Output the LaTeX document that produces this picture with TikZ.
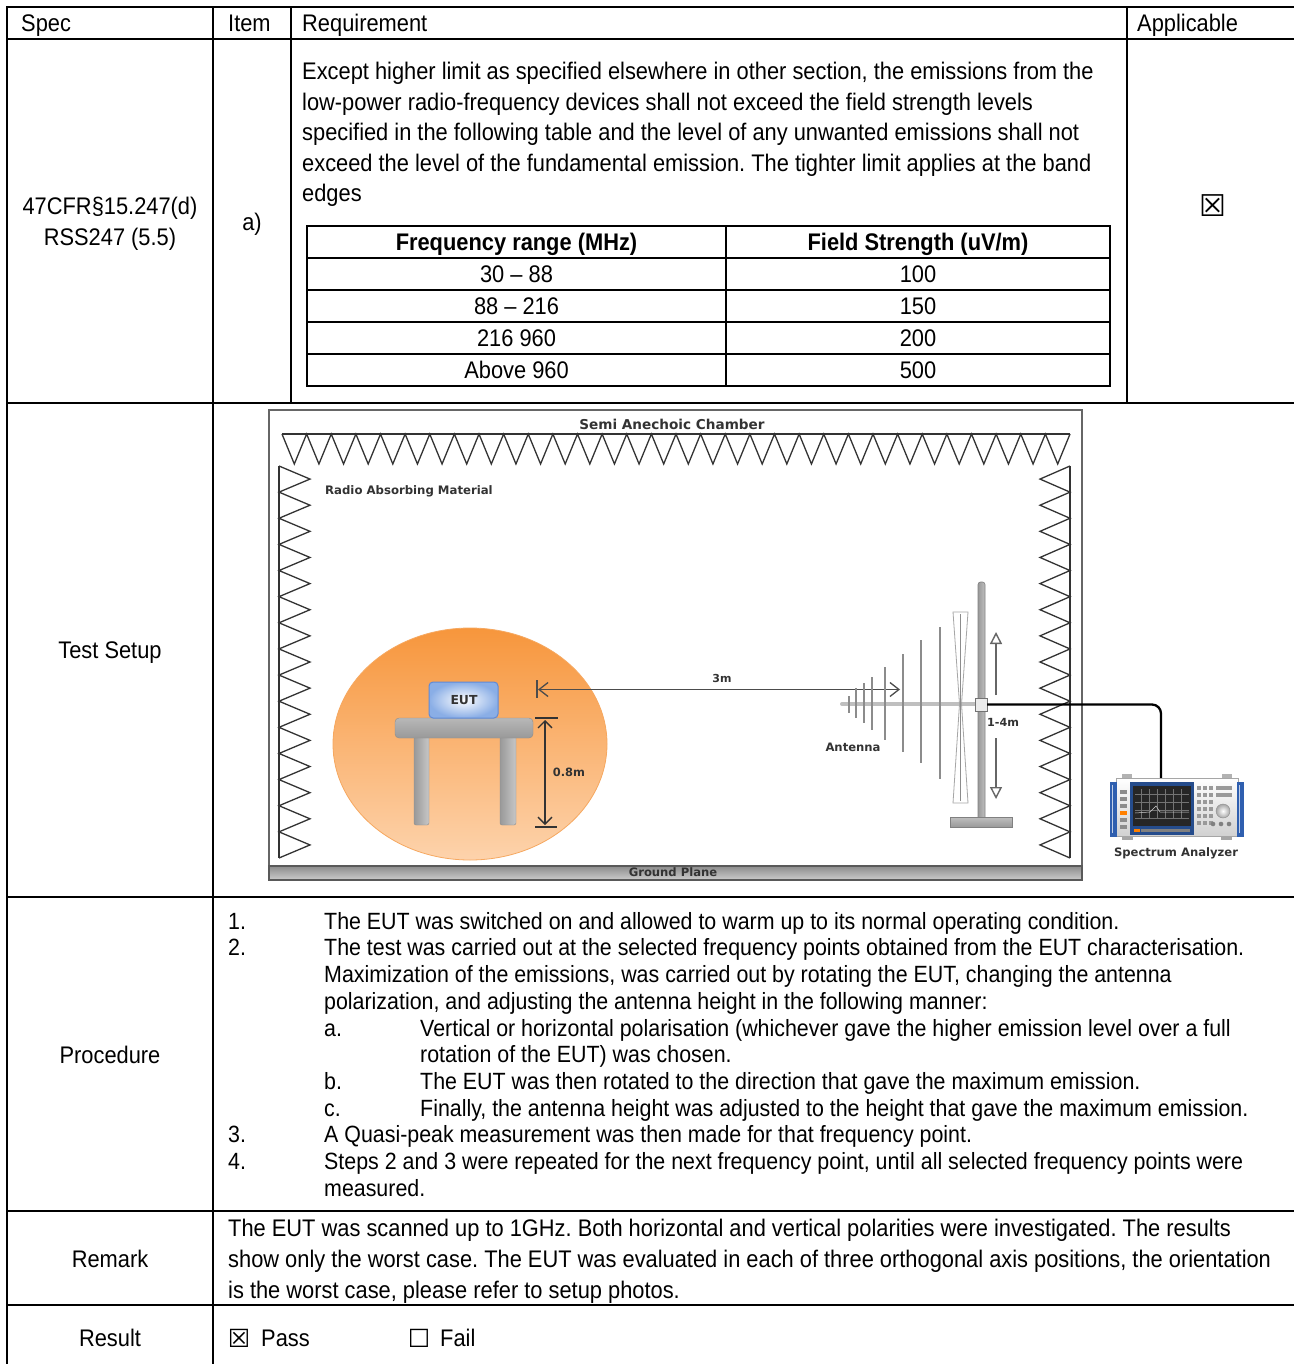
\documentclass[tikz,border=0pt]{standalone}
\usepackage{fontspec}
\setmainfont{Liberation Sans}[FakeStretch=0.91]
\newfontfamily\lblfont{DejaVu Sans}
\newfontfamily\symfont{DejaVu Sans}
\usetikzlibrary{arrows.meta,shapes.geometric}
\frenchspacing
\definecolor{lblgray}{HTML}{333333}
\definecolor{orgtop}{HTML}{F7963C}
\definecolor{orgbot}{HTML}{FDD3AC}
\definecolor{orgedge}{HTML}{F6A860}
\definecolor{eutblue}{HTML}{8AAEE6}
\definecolor{eutedge}{HTML}{5F8AD6}
\definecolor{handle}{HTML}{2F5FAF}
\newcommand\fsmain{\fontsize{24}{30}\selectfont}
\newcommand\fsproc{\fontsize{23.5}{27}\selectfont}
\newcommand\fslbl[1]{\lblfont\bfseries\fontsize{#1}{#1}\selectfont}
\newcommand\fssym[1]{\symfont\fontsize{#1}{#1}\selectfont}
\tikzset{
  grid/.style={line width=2.4pt, line cap=rect},
  itab/.style={line width=2pt},
  txt/.style={inner sep=0pt, anchor=base west, font=\fsmain},
  txtc/.style={inner sep=0pt, anchor=base, font=\fsmain},
  btxtc/.style={inner sep=0pt, anchor=base, font=\fsmain\bfseries},
  ptxt/.style={inner sep=0pt, anchor=base west, font=\fsproc},
  lbl/.style={inner sep=0pt, text=lblgray, font=\fslbl{11.6}},
  absorb/.style={draw=black!80, line width=1.3pt, line join=miter},
  elem/.style={draw=black!45, line width=1.3pt},
}
\begin{document}
\begin{tikzpicture}[x=1pt,y=-1pt]
\useasboundingbox (0,0) rectangle (1293,1364);
\fill[white] (0,0) rectangle (1293,1364);

% ---------------- main table grid ----------------
\draw[grid] (7,7) -- (1293,7);
\draw[grid] (7,39) -- (1293,39);
\draw[grid] (7,403) -- (1293,403);
\draw[grid] (7,897) -- (1293,897);
\draw[grid] (7,1211) -- (1293,1211);
\draw[grid] (7,1305) -- (1293,1305);
\draw[grid] (7,7) -- (7,1366);
\draw[grid] (213,7) -- (213,1366);
\draw[grid] (291,7) -- (291,403);
\draw[grid] (1127,7) -- (1127,403);

% header
\node[txt] (hspec) at (21,31.5) {Spec};
\node[txt] (hitem) at (228,31.5) {Item};
\node[txt] (hreq) at (302,31.5) {Requirement};
\node[txt] (happ) at (1137,31.5) {Applicable};

% row 1
\node[txtc] (spec1) at (110,215) {47CFR§15.247(d)};
\node[txtc] (spec2) at (110,246) {RSS247 (5.5)};
\node[txtc] (item1) at (252,231) {a)};
\node[inner sep=0pt, anchor=center, font=\fssym{30}] (appl) at (1213,206) {☒};
\node[txt] (req1) at (302,80) {Except higher limit as specified elsewhere in other section, the emissions from the};
\node[txt] (req2) at (302,110.5) {low-power radio-frequency devices shall not exceed the field strength levels};
\node[txt] (req3) at (302,141) {specified in the following table and the level of any unwanted emissions shall not};
\node[txt] (req4) at (302,171.5) {exceed the level of the fundamental emission. The tighter limit applies at the band};
\node[txt] (req5) at (302,202) {edges};

% inner limits table
\draw[itab] (307,226) rectangle (1110,386);
\draw[itab] (726,226) -- (726,386);
\foreach \yy in {258,290,322,354} \draw[itab] (307,\yy) -- (1110,\yy);
\node[btxtc] (fh1) at (516.5,250.5) {Frequency range (MHz)};
\node[btxtc] (fh2) at (918,250.5) {Field Strength (uV/m)};
\node[txtc] (f1) at (516.5,282.5) {30 – 88};
\node[txtc] (f2) at (516.5,314.5) {88 – 216};
\node[txtc] (f3) at (516.5,346.5) {216 960};
\node[txtc] (f4) at (516.5,378.5) {Above 960};
\node[txtc] (s1) at (918,282.5) {100};
\node[txtc] (s2) at (918,314.5) {150};
\node[txtc] (s3) at (918,346.5) {200};
\node[txtc] (s4) at (918,378.5) {500};

% ---------------- test setup ----------------
\node[txtc] (tsetup) at (110,658.5) {Test Setup};

% chamber
\draw[black!60, line width=1.6pt] (269,410) rectangle (1082,880);
\shade[top color=black!45, bottom color=black!20, draw=black!65, line width=1.2pt] (269,866) rectangle (1082,880);
\node[lbl, font=\fslbl{11.6}] (ground) at (673,872.5) {Ground Plane};
\node[lbl, font=\fslbl{13.6}] (title) at (672,424) {Semi Anechoic Chamber};
\node[lbl, anchor=west, font=\fslbl{11.7}] (ram) at (325,491) {Radio Absorbing Material};

% absorbers
\draw[absorb] (282,434) -- (1070,434);
\draw[absorb] (282,434) foreach \i in {0,...,31} { -- ({282+(\i+0.5)*24.625},464) -- ({282+(\i+1)*24.625},434) };
\draw[absorb] (279,466) -- (279,858);
\draw[absorb] (279,466) foreach \i in {0,...,14} { -- (310,{466+(\i+0.5)*26.133}) -- (279,{466+(\i+1)*26.133}) };
\draw[absorb] (1070,466) -- (1070,858);
\draw[absorb] (1070,466) foreach \i in {0,...,14} { -- (1040,{466+(\i+0.5)*26.133}) -- (1070,{466+(\i+1)*26.133}) };

% EUT zone
\shade[top color=orgtop, bottom color=orgbot, draw=orgedge, line width=0.8pt] (470,744) ellipse [x radius=137pt, y radius=116pt];
\shade[left color=black!40, right color=black!22, draw=black!45, rounded corners=2pt] (414,735) rectangle (429,825);
\shade[left color=black!40, right color=black!22, draw=black!45, rounded corners=2pt] (500,735) rectangle (516,825);
\shade[top color=black!28, bottom color=black!40, draw=black!45, rounded corners=4pt] (395,718) rectangle (533,738);
\shade[inner color=white, outer color=eutblue, draw=eutedge, line width=1pt, rounded corners=4pt] (429,682) rectangle (498,718);
\node[lbl, font=\fslbl{12.4}] (eut) at (464,700) {EUT};

% 0.8 m dimension
\draw[black!80, line width=1.3pt] (535,718) -- (558,718);
\draw[black!80, line width=1.3pt] (535,827) -- (557,827);
\draw[black!80, line width=1.3pt, {Straight Barb[length=7pt,width=14pt]}-{Straight Barb[length=7pt,width=14pt]}] (545,720) -- (545,825);
\node[lbl, font=\fslbl{11.4}] (h08) at (569,772) {0.8m};

% 3 m distance
\draw[black!70, line width=1.3pt] (537,680) -- (537,698);
\draw[black!70, line width=1.3pt, {Straight Barb[length=9pt,width=14pt]}-{Straight Barb[length=9pt,width=14pt]}] (538,689.5) -- (900,689.5);
\node[lbl, font=\fslbl{11}] (d3) at (722,678) {3m};

% antenna
\draw[black!25, line width=4pt, line cap=round] (842,704) -- (978,704);
\draw[elem] (849,696) -- (849,713);
\draw[elem] (856,688) -- (856,718);
\draw[elem] (864,683) -- (864,723);
\draw[elem] (872,677) -- (872,730);
\draw[elem] (885,667) -- (885,740);
\draw[elem] (903,654) -- (903,752);
\draw[elem] (921,640) -- (921,763);
\draw[elem] (940,627) -- (940,779);
\draw[black!35, line width=0.8pt] (953,612) -- (968,612) -- (961.5,704) -- (968,803) -- (953,803) -- (959.5,704) -- cycle;
\draw[black!45, line width=0.8pt] (960.5,614) -- (960.5,801);
\node[lbl, font=\fslbl{11.6}] (ant) at (853,747.5) {Antenna};

% mast
\shade[left color=black!40, right color=black!25, draw=black!50, line width=0.6pt, rounded corners=2.5pt] (978,582) rectangle (985,820);
\shade[top color=black!25, bottom color=black!40, draw=black!50, line width=0.6pt] (950,817) rectangle (1012,827);
\draw[black!55, fill=black!8, line width=1pt] (975,698.5) rectangle (987,711);
\draw[black!60, line width=1.4pt, -{Triangle[open,length=12pt,width=12pt]}] (996,695) -- (996,632);
\draw[black!60, line width=1.4pt, -{Triangle[open,length=12pt,width=12pt]}] (996,738) -- (996,799);
\node[lbl, font=\fslbl{11.2}] (h14) at (1003,722.5) {1-4m};

% cable
\draw[black, line width=2.3pt, rounded corners=9pt] (987,704.5) -- (1161,704.5) -- (1161,782);

% spectrum analyzer
\fill[black!30] (1122,774) rectangle (1132,779);
\fill[black!30] (1222,774) rectangle (1232,779);
\fill[black!35] (1122,834) rectangle (1133,840);
\fill[black!35] (1221,834) rectangle (1232,840);
\shade[top color=white, bottom color=black!18, draw=black!35, line width=0.6pt] (1116,778) rectangle (1238,836);
\fill[handle] (1110,782) rectangle (1117,837);
\fill[handle] (1237,782) rectangle (1244,837);
\fill[white!70!handle] (1111.5,785) rectangle (1113,833);
\fill[white!70!handle] (1238.5,785) rectangle (1240,833);
\fill[handle!80!black] (1130,782) rectangle (1194,835);
\fill[black!85] (1133,786) rectangle (1191,826);
\foreach \gx in {1141,1149,1157,1165,1173,1181} \draw[black!55, line width=0.3pt] (\gx,789) -- (\gx,818);
\foreach \gy in {794,802,810,818} \draw[black!55, line width=0.3pt] (1135,\gy) -- (1189,\gy);
\draw[white!80!black, line width=0.5pt] (1135,813) -- (1150,812) -- (1156,806) -- (1160,812) -- (1189,812);
\fill[orange] (1134,829) rectangle (1140,832);
\fill[black!50] (1141,829) rectangle (1190,832);
\foreach \by in {790,797,804,818,825} \fill[black!45] (1120,\by) rectangle (1127,\by+4);
\fill[orange] (1120,811) rectangle (1127,815);
\foreach \kx in {1197,1203,1209} \foreach \ky in {786,793,800,807,814,821} \fill[black!40] (\kx,\ky) rectangle (\kx+4,\ky+4);
\foreach \ky in {786,793} \fill[black!40] (1216,\ky) rectangle (1232,\ky+4);
\shade[inner color=white, outer color=black!35, draw=black!45] (1223,811) circle (7pt);
\foreach \kx in {1213,1221,1229} \fill[black!50] (\kx,824) circle (2.3pt);
\node[lbl, font=\fslbl{11.6}] (sa) at (1176,853.5) {Spectrum Analyzer};

% ---------------- procedure ----------------
\node[txtc] (hproc) at (110,1063.5) {Procedure};
\node[ptxt] (n1) at (228,929.4) {1.};
\node[ptxt] (p1) at (324,929.4) {The EUT was switched on and allowed to warm up to its normal operating condition.};
\node[ptxt] (n2) at (228,955.4) {2.};
\node[ptxt] (p2) at (324,955.4) {The test was carried out at the selected frequency points obtained from the EUT characterisation.};
\node[ptxt] (p3) at (324,982.4) {Maximization of the emissions, was carried out by rotating the EUT, changing the antenna};
\node[ptxt] (p4) at (324,1009.4) {polarization, and adjusting the antenna height in the following manner:};
\node[ptxt] (la) at (324,1036.4) {a.};
\node[ptxt] (p5) at (420,1036.4) {Vertical or horizontal polarisation (whichever gave the higher emission level over a full};
\node[ptxt] (p6) at (420,1062.4) {rotation of the EUT) was chosen.};
\node[ptxt] (lb) at (324,1089.4) {b.};
\node[ptxt] (p7) at (420,1089.4) {The EUT was then rotated to the direction that gave the maximum emission.};
\node[ptxt] (lc) at (324,1116.4) {c.};
\node[ptxt] (p8) at (420,1116.4) {Finally, the antenna height was adjusted to the height that gave the maximum emission.};
\node[ptxt] (n3) at (228,1142.4) {3.};
\node[ptxt] (p9) at (324,1142.4) {A Quasi-peak measurement was then made for that frequency point.};
\node[ptxt] (n4) at (228,1169.4) {4.};
\node[ptxt] (p10) at (324,1169.4) {Steps 2 and 3 were repeated for the next frequency point, until all selected frequency points were};
\node[ptxt] (p11) at (324,1196.4) {measured.};

% ---------------- remark ----------------
\node[txtc] (hrem) at (110,1267.5) {Remark};
\node[txt] (r1) at (228,1236) {The EUT was scanned up to 1GHz. Both horizontal and vertical polarities were investigated. The results};
\node[txt] (r2) at (228,1267) {show only the worst case. The EUT was evaluated in each of three orthogonal axis positions, the orientation};
\node[txt] (r3) at (228,1298) {is the worst case, please refer to setup photos.};

% ---------------- result ----------------
\node[txtc] (hres) at (110,1346.5) {Result};
\node[inner sep=0pt, anchor=center, font=\fssym{25}] (passbox) at (239,1338.5) {☒};
\node[txt] (pass) at (261,1346.5) {Pass};
\node[inner sep=0pt, anchor=center, font=\fssym{25}] (failbox) at (419,1338.5) {☐};
\node[txt] (fail) at (440,1346.5) {Fail};
\end{tikzpicture}
\end{document}
